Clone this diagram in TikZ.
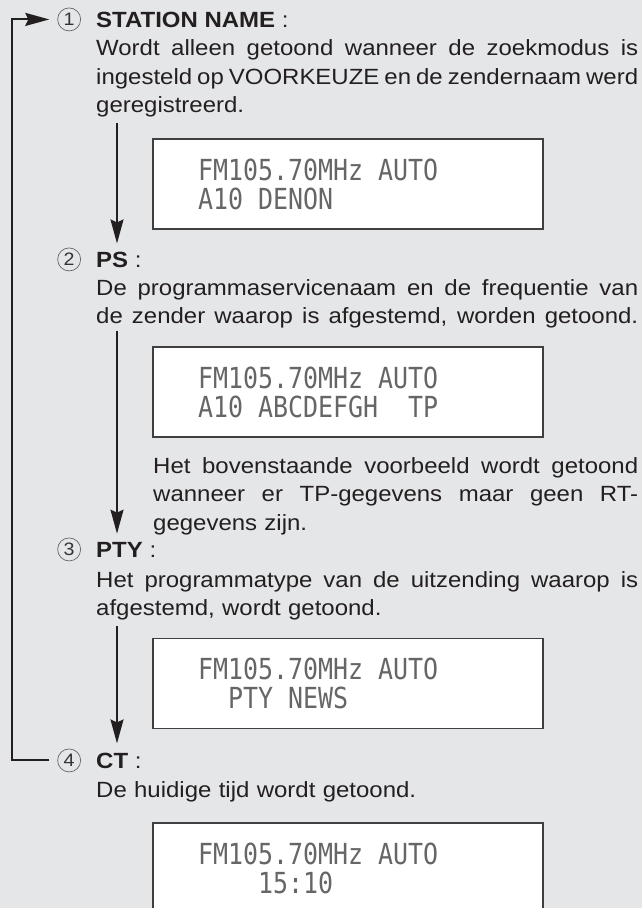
\documentclass[tikz,border=0pt]{standalone}
\usepackage{fontspec}
\setmainfont{Liberation Sans}[FakeStretch=1.09]
\newfontfamily\lcdfont{DejaVu Sans Mono}[FakeStretch=0.86]
\usetikzlibrary{arrows.meta,positioning,calc}
\definecolor{pagegray}{RGB}{229,230,232}
\definecolor{inkgray}{RGB}{35,31,32}
\newcommand{\jline}[1]{\leavevmode\hbox to \linewidth{\spaceskip=\fontdimen2\font plus 1fill minus \fontdimen4\font\relax #1}}
\newcommand{\lsp}{\hphantom{0}}

\begin{document}
\begin{tikzpicture}[x=1pt,y=-1pt,
  font=\fontsize{22}{28.5}\selectfont,
  >={Stealth[length=24pt,width=13pt,inset=3pt]},
  head/.style={anchor=base west,inner sep=0pt,text=inkgray},
  num/.style={draw=black!60,line width=0.7pt,circle,minimum size=23pt,inner sep=0pt,
              text=black!80,font=\fontsize{18}{18}\selectfont},
  body/.style={anchor=base west,inner sep=0pt,text width=542pt,align=left,text=inkgray},
  lcd/.style={draw=black!75,line width=1.2pt,fill=white,minimum width=390pt,minimum height=90pt,
              inner xsep=45pt,text width=300pt,align=left,text=black!60,
              font=\lcdfont\fontsize{29}{29}\selectfont},
  flow/.style={->,line width=2pt,draw=inkgray}
]
\useasboundingbox[fill=pagegray] (0,0) rectangle (642,908);

% ---- 1: zendernaam ----
\node[head] (h1) at (96,27) {\textbf{STATION NAME} :};
\node[num,left=15pt of h1.west] (n1) {1};
\node[body] (t1) at (96,55.5) {\jline{Wordt alleen getoond wanneer de zoekmodus is}\\
  \jline{ingesteld op VOORKEUZE en de zendernaam werd}\\ geregistreerd.};
\node[lcd] (lcd1) at (348,184) {FM105.70MHz\lsp AUTO\\A10\lsp DENON};

% ---- 2: PS ----
\node[head] (h2) at (96,267) {\textbf{PS} :};
\node[num,left=15pt of h2.west] (n2) {2};
\node[body] (t2) at (96,295) {\jline{De programmaservicenaam en de frequentie van}\\
  \jline{de zender waarop is afgestemd, worden getoond.}};
\node[lcd] (lcd2) at (348,392) {FM105.70MHz\lsp AUTO\\A10\lsp ABCDEFGH\lsp\lsp TP};
\node[body,text width=485pt] (t2b) at (153,473) {\jline{Het bovenstaande voorbeeld wordt getoond}\\
  \jline{wanneer er TP-gegevens maar geen RT-}\\ gegevens zijn.};

% ---- 3: PTY ----
\node[head] (h3) at (96,557) {\textbf{PTY} :};
\node[num,left=15pt of h3.west] (n3) {3};
\node[body] (t3) at (96,587) {\jline{Het programmatype van de uitzending waarop is}\\
  afgestemd, wordt getoond.};
\node[lcd] (lcd3) at (348,683.5) {FM105.70MHz\lsp AUTO\\\lsp\lsp PTY\lsp NEWS};

% ---- 4: CT ----
\node[head] (h4) at (96,768) {\textbf{CT} :};
\node[num,left=15pt of h4.west] (n4) {4};
\node[body] (t4) at (96,797) {De huidige tijd wordt getoond.};
\node[lcd] (lcd4) at (348,868) {FM105.70MHz\lsp AUTO\\\lsp\lsp\lsp\lsp 15:10};

% ---- pijlen tussen de standen ----
\draw[flow,shorten >=8pt] ([xshift=21pt,yshift=-6pt]t1.south west) -- ([xshift=21pt]h2.north west);
\draw[flow,shorten >=8pt] ([xshift=21pt,yshift=-2.5pt]t2.south west) -- ([xshift=21pt]h3.north west);
\draw[flow,shorten >=9pt] ([xshift=21pt,yshift=-5.5pt]t3.south west) -- ([xshift=21pt]h4.north west);

% terug van 4 naar 1
\draw[flow,shorten <=8pt,shorten >=8pt] (n4.west) -- ++(-45.5,0) |- (n1.west);

\end{tikzpicture}
\end{document}
